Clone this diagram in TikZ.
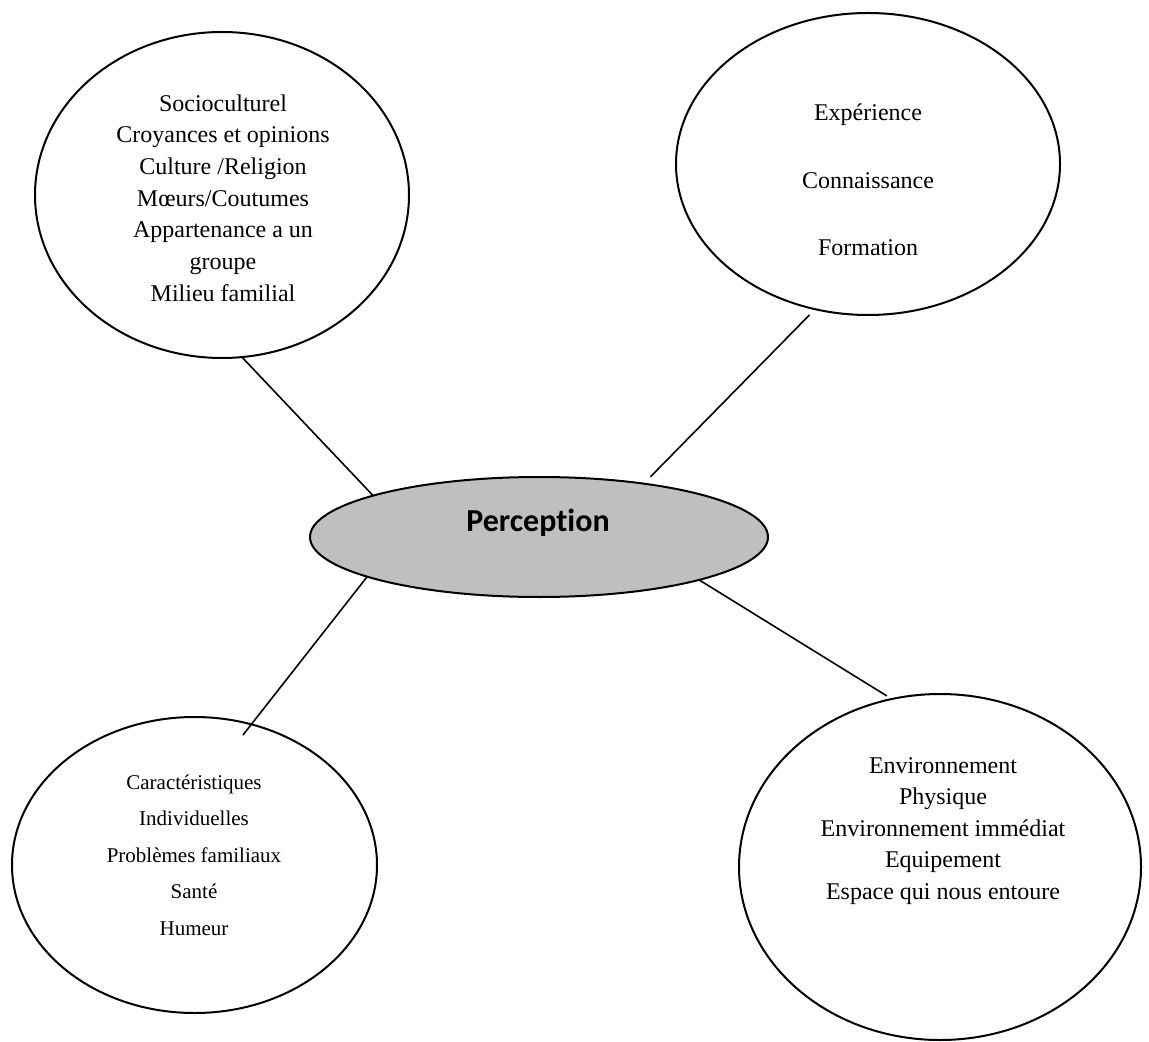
\documentclass[tikz,border=0pt]{standalone}
\usepackage{fontspec}
\setmainfont{Liberation Serif}
\newfontfamily\calibri[Ligatures=NoCommon]{Carlito}
\usetikzlibrary{shapes.geometric}

\definecolor{percgray}{RGB}{191,191,191}

\tikzset{
  bubble/.style={draw, ellipse, line width=1pt, inner sep=0pt, outer sep=0pt},
  link/.style={line width=0.8pt},
  words/.style={align=center, font=\fontsize{12}{15.85}\selectfont}
}

\begin{document}
\begin{tikzpicture}[x=0.5pt, y=-0.5pt]
\useasboundingbox (0,0) rectangle (1149,1042);

% the five ellipses
\node[bubble, minimum width=187pt, minimum height=163pt] (socio) at (222,195) {};
\node[bubble, minimum width=192pt, minimum height=151pt] (savoir) at (868,164) {};
\node[bubble, fill=percgray, minimum width=229pt, minimum height=60pt] (perc) at (539,537) {};
\node[bubble, minimum width=182.5pt, minimum height=148pt] (indiv) at (194.5,865) {};
\node[bubble, minimum width=201pt, minimum height=173pt] (envir) at (940,867) {};

% texts
\node[words] (socio text) at (223,198) {Socioculturel\\Croyances et opinions\\Culture /Religion\\Mœurs/Coutumes\\Appartenance a un\\groupe\\Milieu familial};
\node[words, font=\fontsize{12}{33.75}\selectfont] (savoir text) at (868,180) {Expérience\\Connaissance\\Formation};
\node[font=\calibri\bfseries\fontsize{16}{19}\selectfont] (perc text) at (538,523) {Perception};
\node[words, font=\fontsize{10.5}{18.3}\selectfont] (indiv text) at (194,855) {Caractéristiques\\Individuelles\\Problèmes familiaux\\Santé\\Humeur};
\node[words, font=\fontsize{12}{15.75}\selectfont] (envir text) at (943,831) {Environnement\\Physique\\Environnement immédiat\\Equipement\\Espace qui nous entoure};

% connectors
\draw[link] (socio.-83) -- (perc.166);
\draw[link, shorten <=4pt, shorten >=4.8pt] (savoir.-110) -- (perc.27);
\draw[link, shorten >=-6.8pt] (perc.-167) -- (indiv.68.5);
\draw[link, shorten >=3pt] (perc.-15.6) -- (envir.106.6);

\end{tikzpicture}
\end{document}
